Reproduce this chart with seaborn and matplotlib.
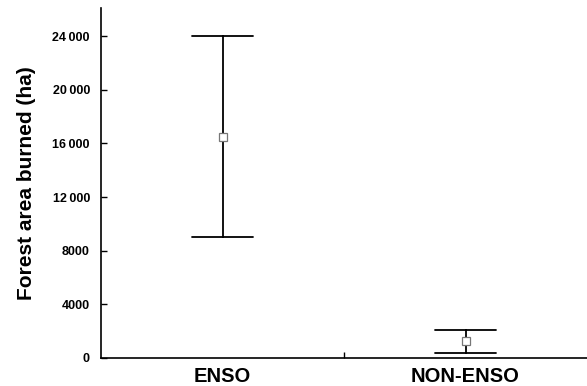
import matplotlib
matplotlib.use("Agg")
import matplotlib.pyplot as plt
import seaborn as sns
import pandas as pd
import numpy as np

categories = ["ENSO", "NON-ENSO"]
lower = [9000, 400]
mean = [16500, 1250]
upper = [24000, 2100]
yticks = [0, 4000, 8000, 12000, 16000, 20000, 24000]
ytick_labels = ["0", "4000", "8000", "12\u2009000", "16\u2009000", "20\u2009000", "24\u2009000"]

rows = []
for c, lo, m, hi in zip(categories, lower, mean, upper):
    for v in (lo, m, hi):
        rows.append({"group": c, "area": v})
df = pd.DataFrame(rows)

sns.set_style("ticks")
plt.rcParams["font.family"] = ["Liberation Sans", "DejaVu Sans"]
plt.rcParams["text.color"] = "black"
plt.rcParams["axes.labelcolor"] = "black"
plt.rcParams["xtick.color"] = "black"
plt.rcParams["ytick.color"] = "black"
plt.rcParams["axes.edgecolor"] = "black"

fig = plt.figure(figsize=(5.87, 3.86), dpi=100)
ax = fig.add_axes([101 / 587, 1 - 358 / 386, 1 - 101 / 587, (358 - 8) / 386])

sns.pointplot(data=df, x="group", y="area", estimator="median",
              errorbar=("pi", 100), capsize=0.25, linestyle="none",
              color="black", marker="s", markersize=6,
              markerfacecolor="white", markeredgecolor="#777777",
              markeredgewidth=0.9,
              err_kws={"linewidth": 1.3, "color": "black"}, ax=ax)
for line in ax.lines:
    if line.get_marker() == "s":
        line.set_zorder(5)
    else:
        line.set_zorder(2)
for coll in ax.collections:
    coll.set_zorder(5)

ax.set_xlim(-0.5, 1.5)
ax.set_ylim(0, 26100)
ax.set_yticks(yticks)
ax.set_yticklabels(ytick_labels, fontsize=9, fontweight="bold")
ax.set_xticks([0.5])
ax.set_xticklabels([""])
ax.tick_params(axis="x", direction="in", length=4, width=1)
ax.tick_params(axis="y", direction="in", length=4, width=1, pad=8)
for i, c in enumerate(categories):
    ax.text(i, -700, c, ha="center", va="top", fontsize=14.5, fontweight="bold",
            transform=ax.transData)
ax.set_xlabel("")
ax.set_ylabel("Forest area burned (ha)", fontsize=15, fontweight="bold", labelpad=12)
for s in ["top", "right"]:
    ax.spines[s].set_visible(False)
ax.spines["left"].set_linewidth(1.2)
ax.spines["bottom"].set_linewidth(1.2)

fig.savefig("out.png", dpi=100)
